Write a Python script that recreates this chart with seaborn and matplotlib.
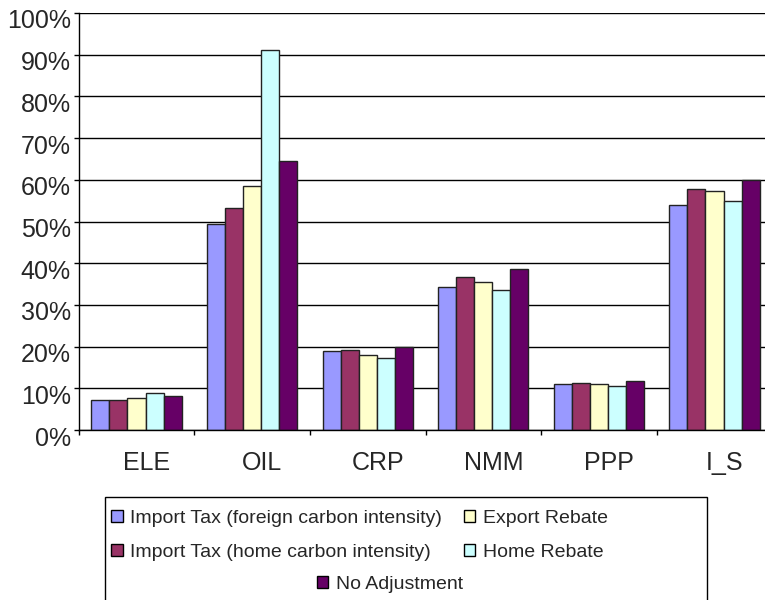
import numpy as np
import pandas as pd
import matplotlib
matplotlib.use("Agg")
import matplotlib.pyplot as plt
import matplotlib.transforms as mtransforms
from matplotlib.patches import Patch, Rectangle
from matplotlib.ticker import PercentFormatter
import seaborn as sns

# data (percent)
sectors = ["ELE", "OIL", "CRP", "NMM", "PPP", "I_S"]
scenarios = [
    "Import Tax (foreign carbon intensity)",
    "Import Tax (home carbon intensity)",
    "Export Rebate",
    "Home Rebate",
    "No Adjustment",
]
import_tax_foreign = [7.1, 49.4, 18.9, 34.2, 11.0, 54.0]
import_tax_home = [7.3, 53.2, 19.1, 36.7, 11.2, 57.9]
export_rebate = [7.7, 58.5, 17.9, 35.5, 11.0, 57.4]
home_rebate = [8.9, 91.1, 17.3, 33.5, 10.5, 55.0]
no_adjustment = [8.1, 64.6, 20.0, 38.5, 11.8, 60.0]
colors = ["#9999FF", "#993366", "#FFFFCC", "#CCFFFF", "#660066"]

series = [import_tax_foreign, import_tax_home, export_rebate, home_rebate, no_adjustment]
rows = []
for name, vals in zip(scenarios, series):
    for s, v in zip(sectors, vals):
        rows.append({"sector": s, "scenario": name, "value": v})
df = pd.DataFrame(rows)

sns.set_style("white")
plt.rcParams["font.family"] = ["Liberation Sans", "DejaVu Sans"]

fig = plt.figure(figsize=(7.65, 6), dpi=100)
ax = fig.add_axes([78.7 / 765, 1 - 430 / 600, 693.6 / 765, 417 / 600])

sns.barplot(data=df, x="sector", y="value", hue="scenario", order=sectors,
            hue_order=scenarios, palette=colors, saturation=1, width=0.78,
            edgecolor="#222222", linewidth=1, legend=False, ax=ax)

ax.set_ylim(0, 100)
ax.set_xlim(-0.5, 5.5)
ax.set_yticks(np.arange(0, 101, 10))
ax.yaxis.set_major_formatter(PercentFormatter(xmax=100, decimals=0))
ax.yaxis.grid(True, color="black", linewidth=1)
ax.set_axisbelow(True)
ax.set_xlabel("")
ax.set_ylabel("")

for side in ["top", "right"]:
    ax.spines[side].set_visible(False)
for side in ["left", "bottom"]:
    ax.spines[side].set_color("black")
    ax.spines[side].set_linewidth(1)

ax.set_xticks(np.arange(-0.5, 6, 1), minor=True)
ax.tick_params(axis="x", which="major", length=0, pad=15, labelsize=18)
ax.tick_params(axis="x", which="minor", length=3.6, width=1, color="black", direction="out")
ax.tick_params(axis="y", length=3.6, width=1, color="black", direction="out", pad=2, labelsize=18)
ax.tick_params(axis="both", bottom=True, left=True, which="both")

# the original labels sit a little right of / below their ticks
xshift = mtransforms.ScaledTranslation(10 / 100, 0, fig.dpi_scale_trans)
for lab in ax.get_xticklabels():
    lab.set_transform(lab.get_transform() + xshift)
yshift = mtransforms.ScaledTranslation(0, -6 / 100, fig.dpi_scale_trans)
for lab in ax.get_yticklabels():
    lab.set_transform(lab.get_transform() + yshift)

# legend: box with four items in two columns, and the last one centred below
handles = [Patch(facecolor=c, edgecolor="black", linewidth=1) for c in colors]
leg1 = fig.legend([handles[0], handles[1], handles[2], handles[3]],
                  [scenarios[0], scenarios[1], scenarios[2], scenarios[3]],
                  ncol=2, loc="upper left", bbox_to_anchor=(111 / 765, 1 - 510 / 600),
                  frameon=False, fontsize=14, handlelength=0.6, handleheight=0.6,
                  handletextpad=0.4, columnspacing=1.1, labelspacing=0.85,
                  borderpad=0, borderaxespad=0)
leg2 = fig.legend([handles[4]], [scenarios[4]], loc="upper center",
                  bbox_to_anchor=(390 / 765, 1 - 576 / 600), frameon=False, fontsize=14,
                  handlelength=0.6, handleheight=0.6, handletextpad=0.4,
                  borderpad=0, borderaxespad=0)
fig.add_artist(Rectangle((105 / 765, -0.05), 602 / 765, (600 - 497) / 600 + 0.05,
                         transform=fig.transFigure, fill=False, edgecolor="black",
                         linewidth=1, clip_on=False))

fig.savefig("out.png", dpi=100)
